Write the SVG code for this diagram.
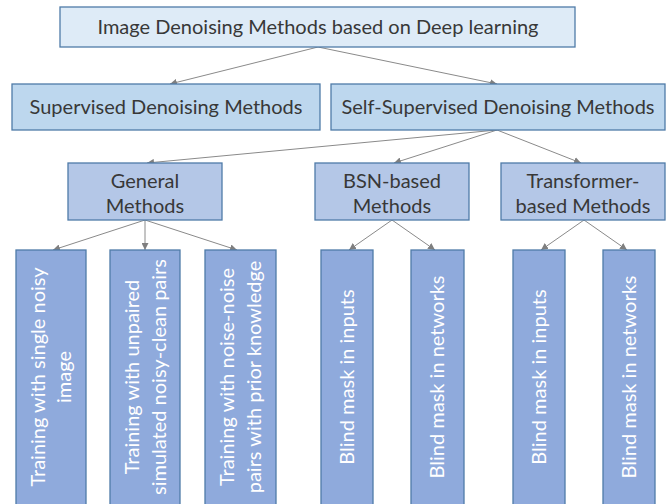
<svg xmlns="http://www.w3.org/2000/svg" width="668" height="504" viewBox="0 0 668 504">
<defs>
<marker id="ah" viewBox="0 0 10 10" refX="10" refY="5" markerWidth="7" markerHeight="7" markerUnits="userSpaceOnUse" orient="auto">
<path d="M0,0 L10,5 L0,10 z" fill="#7f7f7f"/>
</marker>
<style>
.b{stroke:#4f7ba8;stroke-width:1.3}
.l0{fill:#deebf7}
.l1{fill:#bdd7ee}
.l2{fill:#b4c7e7}
.l3{fill:#8faadc}
.t{font-family:Lato,"Liberation Sans",sans-serif;font-size:20px;fill:#383838;text-anchor:middle}
.w{font-family:Lato,"Liberation Sans",sans-serif;font-size:20px;fill:#ffffff;text-anchor:middle}
.c{stroke:#8a8a8a;stroke-width:1;fill:none;marker-end:url(#ah)}
</style>
</defs>
<rect width="668" height="504" fill="#ffffff"/>
<g id="connectors">
<line class="c" x1="318" y1="47" x2="170" y2="84"/>
<line class="c" x1="318" y1="47" x2="497" y2="84"/>
<line class="c" x1="497" y1="130" x2="147" y2="163"/>
<line class="c" x1="497" y1="130" x2="394" y2="163"/>
<line class="c" x1="497" y1="130" x2="581" y2="163"/>
<line class="c" x1="145" y1="220" x2="53" y2="250"/>
<line class="c" x1="145" y1="220" x2="145" y2="250"/>
<line class="c" x1="145" y1="220" x2="237" y2="250"/>
<line class="c" x1="392" y1="220" x2="349" y2="250"/>
<line class="c" x1="392" y1="220" x2="435" y2="250"/>
<line class="c" x1="584" y1="220" x2="541" y2="250"/>
<line class="c" x1="584" y1="220" x2="627" y2="250"/>
</g>
<g id="root">
<rect class="b l0" x="60" y="7" width="515" height="40"/>
<text class="t" x="318" y="34">Image Denoising Methods based on Deep learning</text>
</g>
<g id="supervised">
<rect class="b l1" x="12" y="84" width="308" height="46"/>
<text class="t" x="166" y="114">Supervised Denoising Methods</text>
</g>
<g id="selfsupervised">
<rect class="b l1" x="331" y="84" width="334" height="46"/>
<text class="t" x="498" y="114">Self-Supervised Denoising Methods</text>
</g>
<g id="general">
<rect class="b l2" x="68" y="163" width="154" height="57"/>
<text class="t" x="145" y="188">General</text>
<text class="t" x="145" y="213">Methods</text>
</g>
<g id="bsn">
<rect class="b l2" x="315" y="163" width="154" height="57"/>
<text class="t" x="392" y="188">BSN-based</text>
<text class="t" x="392" y="213">Methods</text>
</g>
<g id="transformer">
<rect class="b l2" x="501" y="163" width="164" height="57"/>
<text class="t" x="583" y="188">Transformer-</text>
<text class="t" x="583" y="213">based Methods</text>
</g>
<g id="leaf1">
<rect class="b l3" x="16" y="250" width="70" height="260"/>
<text class="w" transform="translate(51,377) rotate(-90)"><tspan x="0" y="-6">Training with single noisy</tspan><tspan x="0" y="20">image</tspan></text>
</g>
<g id="leaf2">
<rect class="b l3" x="110" y="250" width="70" height="260"/>
<text class="w" transform="translate(145,377) rotate(-90)"><tspan x="0" y="-6">Training with unpaired</tspan><tspan x="0" y="21">simulated noisy-clean pairs</tspan></text>
</g>
<g id="leaf3">
<rect class="b l3" x="205" y="250" width="71" height="260"/>
<text class="w" transform="translate(240,377) rotate(-90)"><tspan x="0" y="-6">Training with noise-noise</tspan><tspan x="0" y="21">pairs with prior knowledge</tspan></text>
</g>
<g id="leaf4">
<rect class="b l3" x="321" y="250" width="52" height="260"/>
<text class="w" transform="translate(347,377) rotate(-90)" y="7">Blind mask in inputs</text>
</g>
<g id="leaf5">
<rect class="b l3" x="411" y="250" width="53" height="260"/>
<text class="w" transform="translate(437,377) rotate(-90)" y="7">Blind mask in networks</text>
</g>
<g id="leaf6">
<rect class="b l3" x="513" y="250" width="52" height="260"/>
<text class="w" transform="translate(539,377) rotate(-90)" y="7">Blind mask in inputs</text>
</g>
<g id="leaf7">
<rect class="b l3" x="603" y="250" width="52" height="260"/>
<text class="w" transform="translate(629,377) rotate(-90)" y="7">Blind mask in networks</text>
</g>
</svg>
